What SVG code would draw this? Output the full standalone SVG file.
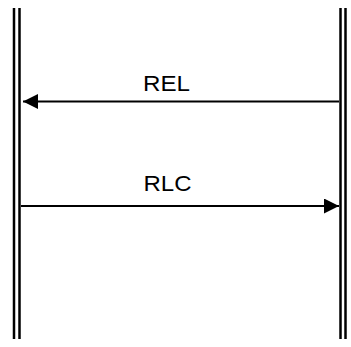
<svg xmlns="http://www.w3.org/2000/svg" width="351" height="347" viewBox="0 0 351 347">
<style>
.life{stroke:#000;stroke-width:2.5;fill:none}
.msg{stroke:#000;stroke-width:2;fill:none}
.lbl{font-family:"Liberation Sans",Arial,sans-serif;font-size:22px;fill:#000;text-anchor:middle}
</style>
<defs>
<marker id="ah" markerWidth="16" markerHeight="16" refX="15" refY="7.5" orient="auto" markerUnits="userSpaceOnUse">
<path d="M0,0 L15,7.5 L0,15 Z" fill="#000"/>
</marker>
</defs>
<g id="nodeA">
<line class="life" x1="14" y1="8" x2="14" y2="339"/>
<line class="life" x1="19.5" y1="8" x2="19.5" y2="339"/>
</g>
<g id="nodeB">
<line class="life" x1="340.5" y1="8" x2="340.5" y2="339"/>
<line class="life" x1="345.5" y1="8" x2="345.5" y2="339"/>
</g>
<g id="connectors">
<line class="msg" x1="339" y1="101.5" x2="23" y2="101.5" marker-end="url(#ah)"/>
<text class="lbl" x="166.5" y="91" textLength="47" lengthAdjust="spacingAndGlyphs">REL</text>
<line class="msg" x1="21" y1="206" x2="339" y2="206" marker-end="url(#ah)"/>
<text class="lbl" x="167.5" y="191" textLength="48" lengthAdjust="spacingAndGlyphs">RLC</text>
</g>
</svg>
